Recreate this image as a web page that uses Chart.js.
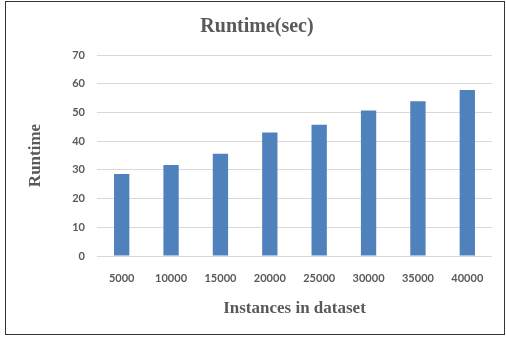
<!DOCTYPE html>
<html>
<head>
<meta charset="utf-8">
<script src="https://cdn.jsdelivr.net/npm/chart.js@4/dist/chart.umd.min.js"></script>
<style>
  html, body { margin: 0; padding: 0; background: #fff; }
  #wrap { width: 506px; height: 337px; }
</style>
</head>
<body>
<div id="wrap"><canvas id="runtimeChart" width="506" height="337"></canvas></div>
<script>
const instances = ["5000", "10000", "15000", "20000", "25000", "30000", "35000", "40000"];
const runtimeSec = [28.6, 31.7, 35.6, 43.0, 45.7, 50.7, 53.9, 57.8];
const yTicks = [0, 10, 20, 30, 40, 50, 60, 70];

const textGray = "#595959";

// frame round the whole picture
const framePlugin = {
  id: "frame",
  afterDraw(chart) {
    const c = chart.ctx;
    c.save();
    c.strokeStyle = "#333";
    c.lineWidth = 1;
    c.strokeRect(5.5, 1.5, 499, 333);
    c.restore();
  }
};

const ctx = document.getElementById("runtimeChart").getContext("2d");
new Chart(ctx, {
  type: "bar",
  data: {
    labels: instances,
    datasets: [{
      label: "Runtime",
      data: runtimeSec,
      backgroundColor: "#4F81BD",
      barPercentage: 0.31,
      categoryPercentage: 1.0
    }]
  },
  options: {
    responsive: false,
    animation: false,
    layout: { padding: { left: 22, right: 14, top: 0, bottom: 4 } },
    plugins: {
      legend: { display: false },
      tooltip: { enabled: false },
      title: {
        display: true,
        text: "Runtime(sec)",
        color: textGray,
        font: { family: "Liberation Serif", size: 20, weight: "bold" },
        padding: { top: 15, bottom: 16 }
      }
    },
    scales: {
      x: {
        afterFit(scale) {
          scale.height = 77;
        },
        grid: { display: false, drawTicks: false },
        border: { display: false },
        ticks: {
          color: textGray,
          font: { family: "Lato", size: 11, weight: "bold" },
          padding: 16,
          maxRotation: 0
        },
        title: {
          display: true,
          text: "Instances in dataset",
          color: textGray,
          font: { family: "Liberation Serif", size: 17, weight: "bold" },
          padding: { top: 0, bottom: 14 }
        }
      },
      y: {
        min: 0,
        max: 70,
        afterBuildTicks(scale) {
          scale.ticks = yTicks.map(v => ({ value: v }));
        },
        afterFit(scale) {
          scale.width = 75;
        },
        grid: { color: "#D9D9D9", lineWidth: 1, drawTicks: false },
        border: { display: false },
        ticks: {
          color: textGray,
          font: { family: "Lato", size: 11, weight: "bold" },
          padding: 12
        },
        title: {
          display: true,
          text: "Runtime",
          color: textGray,
          font: { family: "Liberation Serif", size: 17, weight: "bold" },
          padding: { top: 3, bottom: 0 }
        }
      }
    }
  },
  plugins: [framePlugin]
});
</script>
</body>
</html>
